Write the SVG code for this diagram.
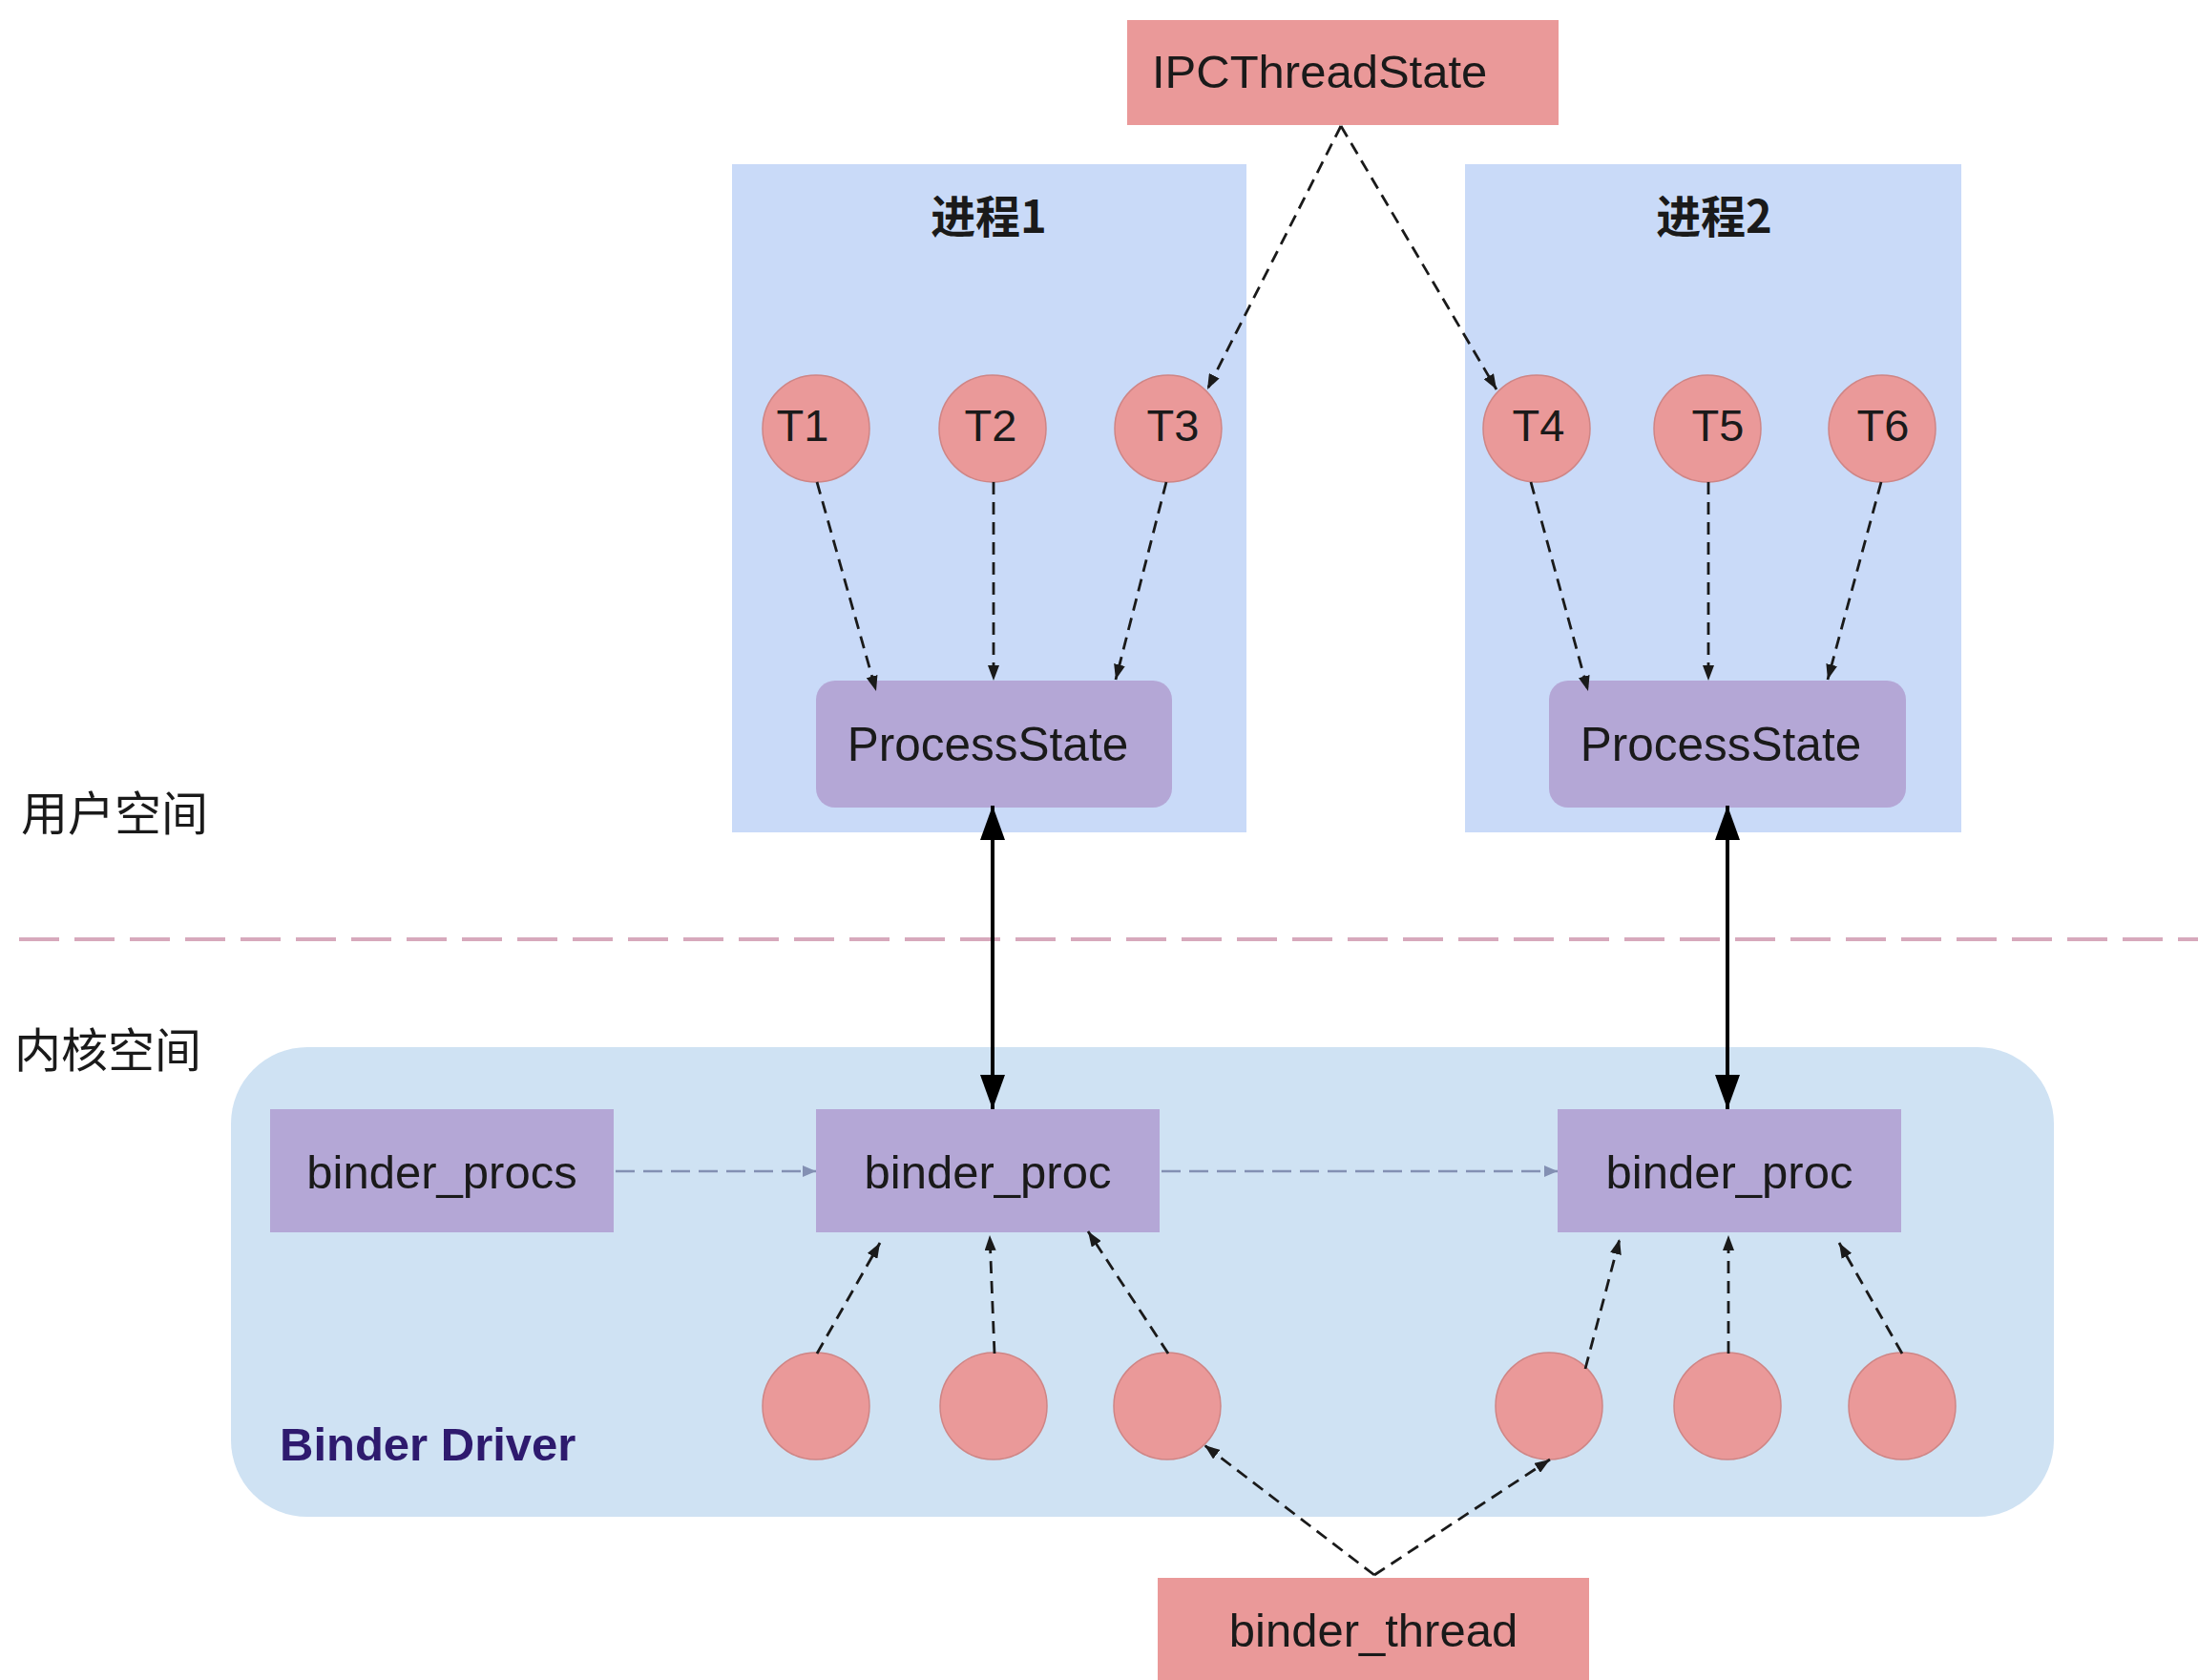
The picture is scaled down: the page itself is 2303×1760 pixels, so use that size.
<svg xmlns="http://www.w3.org/2000/svg" width="2303" height="1760" viewBox="0 0 2303 1760">
<defs>
<style>
.txt{font-family:"Liberation Sans",Arial,"Noto Sans CJK SC",sans-serif;fill:#1a1a1a}
.cjk{font-family:"Noto Sans CJK SC","Liberation Sans",sans-serif;fill:#1a1a1a}
.red{fill:#ea9999}
.circ{fill:#ea9999;stroke:#cf8585;stroke-width:1.5}
.purple{fill:#b4a7d6}
.proc{fill:#c9daf8}
.dash{fill:none;stroke:#1a1a1a;stroke-width:2.8;stroke-dasharray:13 8;marker-end:url(#ah)}
.hdash{fill:none;stroke:#8390b3;stroke-width:2.5;stroke-dasharray:20 9;marker-end:url(#ahb)}
.bi{fill:none;stroke:#000;stroke-width:4;marker-start:url(#big);marker-end:url(#big)}
</style>
<marker id="ah" markerWidth="16" markerHeight="12" refX="16" refY="6" orient="auto" markerUnits="userSpaceOnUse"><path d="M0,0 L16,6 L0,12 z" fill="#1a1a1a"/></marker>
<marker id="ahb" markerWidth="14" markerHeight="12" refX="14" refY="6" orient="auto" markerUnits="userSpaceOnUse"><path d="M0,0 L14,6 L0,12 z" fill="#8390b3"/></marker>
<marker id="big" markerWidth="36" markerHeight="26" refX="36" refY="13" orient="auto-start-reverse" markerUnits="userSpaceOnUse"><path d="M0,0 L36,13 L0,26 z" fill="#000"/></marker>
</defs>
<rect width="2303" height="1760" fill="#fff"/>

<g id="divider">
<line x1="20" y1="984" x2="2303" y2="984" stroke="#d7a9bc" stroke-width="4" stroke-dasharray="42 16"/>
</g>
<g id="label-user"><text class="cjk" x="22" y="870" font-size="49">用户空间</text></g>
<g id="label-kernel"><text class="cjk" x="15" y="1118" font-size="49">内核空间</text></g>

<g id="process1">
<rect class="proc" x="767" y="172" width="539" height="700"/>
<text class="cjk" x="1036" y="244" font-size="47" font-weight="bold" text-anchor="middle">进程1</text>
</g>
<g id="process2">
<rect class="proc" x="1535" y="172" width="520" height="700"/>
<text class="cjk" x="1796" y="244" font-size="47" font-weight="bold" text-anchor="middle">进程2</text>
</g>

<g id="binder-driver">
<rect x="242" y="1097" width="1910" height="492" rx="80" ry="80" fill="#cfe2f3"/>
<text class="txt" x="293" y="1530" font-size="49" font-weight="bold" style="fill:#2e1a6e">Binder Driver</text>
</g>

<g id="ipcthreadstate">
<rect class="red" x="1181" y="21" width="452" height="110"/>
<text class="txt" x="1207" y="92" font-size="49">IPCThreadState</text>
</g>

<g id="t1"><circle class="circ" cx="855" cy="449" r="56"/><text class="txt" x="841" y="462" font-size="47" text-anchor="middle">T1</text></g>
<g id="t2"><circle class="circ" cx="1040" cy="449" r="56"/><text class="txt" x="1038" y="462" font-size="47" text-anchor="middle">T2</text></g>
<g id="t3"><circle class="circ" cx="1224" cy="449" r="56"/><text class="txt" x="1229" y="462" font-size="47" text-anchor="middle">T3</text></g>
<g id="t4"><circle class="circ" cx="1610" cy="449" r="56"/><text class="txt" x="1612" y="462" font-size="47" text-anchor="middle">T4</text></g>
<g id="t5"><circle class="circ" cx="1789" cy="449" r="56"/><text class="txt" x="1800" y="462" font-size="47" text-anchor="middle">T5</text></g>
<g id="t6"><circle class="circ" cx="1972" cy="449" r="56"/><text class="txt" x="1973" y="462" font-size="47" text-anchor="middle">T6</text></g>

<g id="processstate1">
<rect class="purple" x="855" y="713" width="373" height="133" rx="20" ry="20"/>
<text class="txt" x="1035" y="797" font-size="49.5" text-anchor="middle">ProcessState</text>
</g>
<g id="processstate2">
<rect class="purple" x="1623" y="713" width="374" height="133" rx="20" ry="20"/>
<text class="txt" x="1803" y="797" font-size="49.5" text-anchor="middle">ProcessState</text>
</g>

<g id="binder-procs">
<rect class="purple" x="283" y="1162" width="360" height="129"/>
<text class="txt" x="463" y="1245" font-size="49" text-anchor="middle">binder_procs</text>
</g>
<g id="binder-proc1">
<rect class="purple" x="855" y="1162" width="360" height="129"/>
<text class="txt" x="1035" y="1245" font-size="49" text-anchor="middle">binder_proc</text>
</g>
<g id="binder-proc2">
<rect class="purple" x="1632" y="1162" width="360" height="129"/>
<text class="txt" x="1812" y="1245" font-size="49" text-anchor="middle">binder_proc</text>
</g>

<g id="kt1"><circle class="circ" cx="855" cy="1473" r="56"/></g>
<g id="kt2"><circle class="circ" cx="1041" cy="1473" r="56"/></g>
<g id="kt3"><circle class="circ" cx="1223" cy="1473" r="56"/></g>
<g id="kt4"><circle class="circ" cx="1623" cy="1473" r="56"/></g>
<g id="kt5"><circle class="circ" cx="1810" cy="1473" r="56"/></g>
<g id="kt6"><circle class="circ" cx="1993" cy="1473" r="56"/></g>

<g id="binder-thread">
<rect class="red" x="1213" y="1653" width="452" height="107"/>
<text class="txt" x="1439" y="1725" font-size="49" text-anchor="middle">binder_thread</text>
</g>

<g id="connectors">
<line class="dash" x1="1405" y1="132" x2="1265" y2="408"/>
<line class="dash" x1="1405" y1="132" x2="1568" y2="408"/>
<line class="dash" x1="856" y1="505" x2="918" y2="724"/>
<line class="dash" x1="1041" y1="505" x2="1041" y2="713"/>
<line class="dash" x1="1222" y1="505" x2="1169" y2="712"/>
<line class="dash" x1="1604" y1="505" x2="1664" y2="724"/>
<line class="dash" x1="1790" y1="505" x2="1790" y2="713"/>
<line class="dash" x1="1971" y1="505" x2="1915" y2="712"/>
<line class="bi" x1="1040" y1="844" x2="1040" y2="1162"/>
<line class="bi" x1="1810" y1="844" x2="1810" y2="1162"/>
<line class="hdash" x1="645" y1="1227" x2="855" y2="1227"/>
<line class="hdash" x1="1217" y1="1227" x2="1632" y2="1227"/>
<line class="dash" x1="856" y1="1418" x2="922" y2="1302"/>
<line class="dash" x1="1042" y1="1418" x2="1037" y2="1294"/>
<line class="dash" x1="1224" y1="1418" x2="1140" y2="1290"/>
<line class="dash" x1="1661" y1="1434" x2="1697" y2="1298"/>
<line class="dash" x1="1811" y1="1418" x2="1811" y2="1294"/>
<line class="dash" x1="1993" y1="1418" x2="1927" y2="1302"/>
<line class="dash" x1="1440" y1="1650" x2="1262" y2="1514"/>
<line class="dash" x1="1440" y1="1650" x2="1624" y2="1529"/>
</g>
</svg>
